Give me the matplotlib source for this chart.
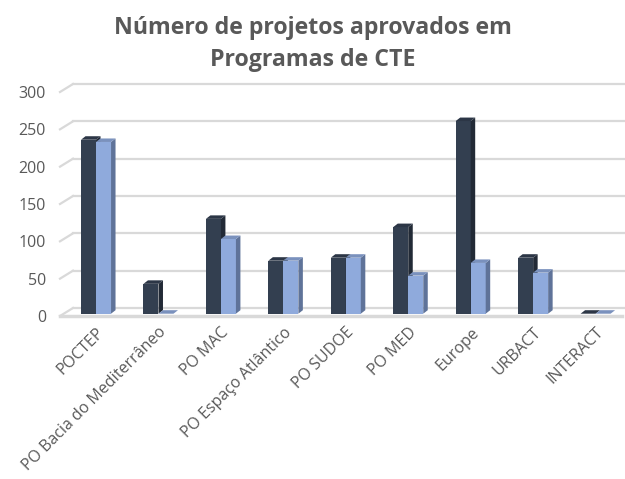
import matplotlib
matplotlib.use("Agg")
from matplotlib import pyplot as plt
from matplotlib.patches import Polygon

categories = ['POCTEP', 'PO Bacia do Mediterrâneo', 'PO MAC', 'PO Espaço Atlântico',
              'PO SUDOE', 'PO MED', 'Europe', 'URBACT', 'INTERACT']
serie_1 = [233, 40, 127, 71, 75, 116, 258, 75, 0]
serie_2 = [230, 0, 100, 71, 75, 51, 68, 55, 0]
yticks = [0, 50, 100, 150, 200, 250, 300]

plt.rcParams['font.family'] = ['Open Sans', 'DejaVu Sans']

W, H = 625, 479
fig = plt.figure(figsize=(W / 100, H / 100), dpi=100)
# axes in pixel terms: front plane of the 3d box
left, right, bottom, top = 60, 622, 316, 92
ax = fig.add_axes([left / W, 1 - bottom / H, (right - left) / W, (bottom - top) / H])
xmin, xmax = -0.577, 8.423
ax.set_xlim(xmin, xmax)
ax.set_ylim(0, 300)

pxx = (right - left) / (xmax - xmin)   # px per x unit
pxy = (bottom - top) / 300.0           # px per y unit

grid_col = '#d9d9d9'
# floor / wall depth
fdx, fdy = 13 / pxx, 8 / pxy
for y in yticks:
    ax.plot([xmin, xmin + fdx], [y, y + fdy], color=grid_col, lw=1.6, clip_on=False, zorder=1)
    ax.plot([xmin + fdx, xmax + 0.05], [y + fdy, y + fdy], color=grid_col, lw=1.6,
            clip_on=False, zorder=1)
ax.plot([xmin, xmax], [0, 0], color=grid_col, lw=2.5, clip_on=False, zorder=1)

# bars
w = 15 / pxx
bdx, bdy = 4.5 / pxx, 3.5 / pxy
y0 = 2.3 / pxy
styles = [('#333f50', '#222a36', '#2c3646'), ('#8faadc', '#5f7399', '#7a91bd')]


def draw_bar(xl, v, cols, z):
    front, side, topc = cols
    ax.add_patch(Polygon([(xl, y0), (xl + w, y0), (xl + w, y0 + v), (xl, y0 + v)],
                         closed=True, fc=front, ec='none', zorder=z, clip_on=False))
    ax.add_patch(Polygon([(xl + w, y0), (xl + w + bdx, y0 + bdy), (xl + w + bdx, y0 + v + bdy),
                          (xl + w, y0 + v)], closed=True, fc=side, ec='none', zorder=z,
                         clip_on=False))
    ax.add_patch(Polygon([(xl, y0 + v), (xl + bdx, y0 + v + bdy), (xl + w + bdx, y0 + v + bdy),
                          (xl + w, y0 + v)], closed=True, fc=topc, ec='none', zorder=z,
                         clip_on=False))


for i in range(len(categories)):
    draw_bar(i - w, serie_1[i], styles[0], 3 + 2 * i)
    draw_bar(i, serie_2[i], styles[1], 4 + 2 * i)

for s in ax.spines.values():
    s.set_visible(False)
ax.set_yticks(yticks)
ax.set_xticks(range(len(categories)))
ax.set_xticklabels(categories, rotation=45, ha='right', rotation_mode='anchor')
ax.tick_params(axis='y', length=0, pad=10, labelsize=11.5, labelcolor='#595959')
ax.tick_params(axis='x', length=0, pad=6, labelsize=11.5, labelcolor='#595959')

fig.text(0.5, 1 - 44 / H, 'Número de projetos aprovados em\nProgramas de CTE',
         ha='center', va='center', fontsize=16.7, fontweight='bold', color='#595959',
         linespacing=1.4)

fig.savefig('out.png', dpi=100)
